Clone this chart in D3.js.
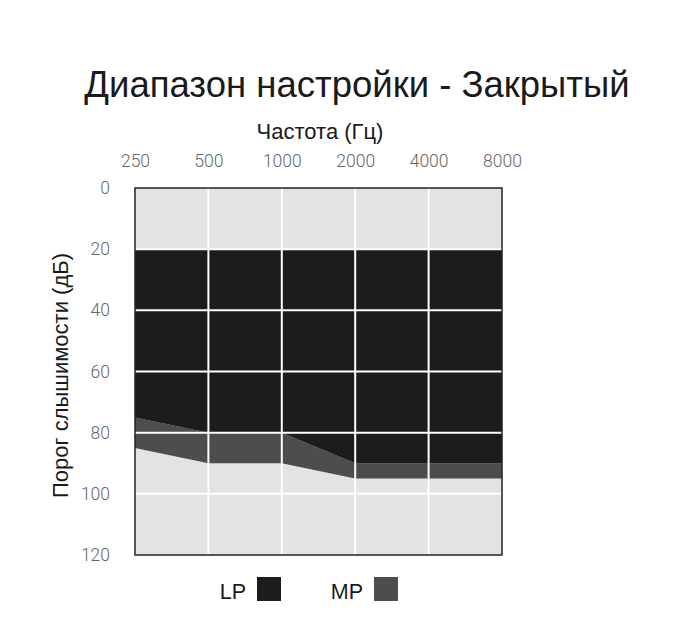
<!DOCTYPE html>
<html>
<head>
<meta charset="utf-8">
<script src="https://cdn.jsdelivr.net/npm/d3@7"></script>
<style>
  body { margin: 0; background: #fff; }
  svg text { font-family: "Liberation Sans", Arial, sans-serif; }
</style>
</head>
<body>
<svg id="chart"></svg>
<script>
// Data:
const freqs = [250, 500, 1000, 2000, 4000, 8000];
const dbTicks = [0, 20, 40, 60, 80, 100, 120];
const lpTop = [20, 20, 20, 20, 20, 20];     // LP top edge (dB)
const lpBottom = [75, 80, 80, 90, 90, 90];  // LP bottom edge = MP top
const mpBottom = [85, 90, 90, 95, 95, 95];  // MP bottom edge

const width = 700, height = 630;
const plotL = 135, plotR = 502, plotT = 188, plotB = 555;

const svg = d3.select("#chart")
  .attr("width", width)
  .attr("height", height);

const x = d3.scaleLog().base(2)
  .domain([250, 8000])
  .range([plotL, plotR]);
const y = d3.scaleLinear()
  .domain([0, 120])
  .range([plotT, plotB]);

// plot background
svg.append("rect")
  .attr("x", plotL).attr("y", plotT)
  .attr("width", plotR - plotL).attr("height", plotB - plotT)
  .attr("fill", "#e3e3e3");

const rows = freqs.map((f, i) => ({f: f, a: lpTop[i], b: lpBottom[i], c: mpBottom[i]}));

// MP band
svg.append("path")
  .datum(rows)
  .attr("fill", "#4d4d4d")
  .attr("d", d3.area().x(d => x(d.f)).y0(d => y(d.b)).y1(d => y(d.c)));

// LP band
svg.append("path")
  .datum(rows)
  .attr("fill", "#1c1c1e")
  .attr("d", d3.area().x(d => x(d.f)).y0(d => y(d.a)).y1(d => y(d.b)));

// grid lines (white)
svg.append("g").selectAll("line")
  .data(freqs.slice(1, -1))
  .join("line")
    .attr("x1", d => x(d)).attr("x2", d => x(d))
    .attr("y1", plotT).attr("y2", plotB)
    .attr("stroke", "#fff").attr("stroke-width", 2);
svg.append("g").selectAll("line")
  .data(dbTicks.slice(1, -1))
  .join("line")
    .attr("x1", plotL).attr("x2", plotR)
    .attr("y1", d => y(d)).attr("y2", d => y(d))
    .attr("stroke", "#fff").attr("stroke-width", 2);

// border
svg.append("rect")
  .attr("x", plotL).attr("y", plotT)
  .attr("width", plotR - plotL).attr("height", plotB - plotT)
  .attr("fill", "none")
  .attr("stroke", "#222").attr("stroke-width", 1.5);

// x axis (top)
const xAxis = svg.append("g")
  .attr("transform", `translate(0,${plotT - 18})`)
  .call(d3.axisTop(x).tickValues(freqs).tickFormat(d3.format("d")).tickSize(0));
xAxis.select(".domain").remove();
xAxis.selectAll("text")
  .attr("fill", "#666").attr("font-size", 17.5).attr("font-weight", 300)
  .style("font-family", "Roboto");

// y axis
const yAxis = svg.append("g")
  .attr("transform", `translate(${plotL - 22},0)`)
  .call(d3.axisLeft(y).tickValues(dbTicks).tickSize(0));
yAxis.select(".domain").remove();
yAxis.selectAll("text")
  .attr("fill", "#666").attr("font-size", 17.5).attr("font-weight", 300)
  .style("font-family", "Roboto");

// titles
svg.append("text")
  .attr("x", 357).attr("y", 97)
  .attr("text-anchor", "middle")
  .attr("font-size", 36.5)
  .attr("fill", "#1a1a1a")
  .text("Диапазон настройки - Закрытый");

svg.append("text")
  .attr("x", 320).attr("y", 139)
  .attr("text-anchor", "middle")
  .attr("font-size", 22)
  .attr("fill", "#1a1a1a")
  .text("Частота (Гц)");

svg.append("text")
  .attr("transform", `translate(68,${(plotT + plotB) / 2 + 4}) rotate(-90)`)
  .attr("text-anchor", "middle")
  .attr("font-size", 22)
  .attr("fill", "#1a1a1a")
  .text("Порог слышимости (дБ)");

// legend
const legend = [
  {name: "LP", color: "#1c1c1e", tx: 246, sx: 257},
  {name: "MP", color: "#4d4d4d", tx: 363, sx: 374}
];
const lg = svg.append("g").selectAll("g").data(legend).join("g");
lg.append("text")
  .attr("x", d => d.tx).attr("y", 599)
  .attr("text-anchor", "end")
  .attr("font-size", 21.5)
  .attr("fill", "#1a1a1a")
  .text(d => d.name);
lg.append("rect")
  .attr("x", d => d.sx).attr("y", 577)
  .attr("width", 24).attr("height", 24)
  .attr("fill", d => d.color);
</script>
</body>
</html>
